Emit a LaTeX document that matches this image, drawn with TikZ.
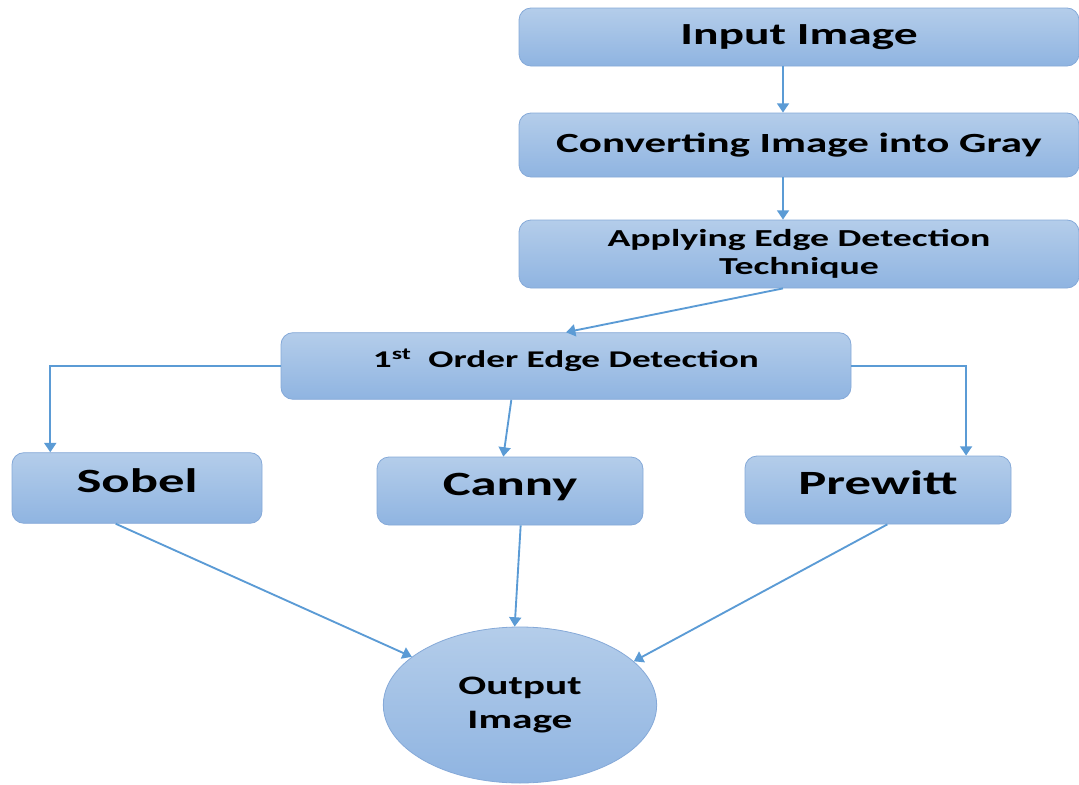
\documentclass[tikz,border=0pt]{standalone}
\usepackage{fontspec}
\setmainfont[FakeStretch=1.55]{Carlito}
\usetikzlibrary{arrows.meta,shapes.geometric}
\definecolor{boxtop}{HTML}{B4CDEA}
\definecolor{boxbot}{HTML}{8FB4E1}
\definecolor{boxline}{HTML}{85A9D8}
\definecolor{arrowblue}{HTML}{5B9BD5}
\tikzset{
    stage/.style={rectangle, rounded corners=9pt, draw=boxline, line width=0.6pt,
        top color=boxtop, bottom color=boxbot, align=center, inner sep=0pt},
    flow/.style={draw=arrowblue, line width=1.4pt, -{Triangle[width=9pt,length=7pt]}},
}
\begin{document}
\begin{tikzpicture}[x=0.75pt,y=-0.75pt]
    \useasboundingbox (0,0) rectangle (1079,785);
    %% pipeline
    \node[stage, minimum width=420pt, minimum height=43.5pt,
        font=\bfseries\fontsize{23}{26}\selectfont] (input) at (799,37) {Input Image};
    \node[stage, minimum width=420pt, minimum height=48pt,
        font=\bfseries\fontsize{20.8}{24}\selectfont] (gray) at (799,145) {Converting Image into Gray};
    \node[stage, minimum width=420pt, minimum height=51pt,
        font=\bfseries\fontsize{18.3}{20.5}\selectfont] (apply) at (799,254) {Applying Edge Detection\\[1pt]Technique};
    \node[stage, minimum width=427.5pt, minimum height=50pt, text height=12pt, text depth=9.4pt,
        font=\bfseries\fontsize{18}{21}\selectfont] (first) at (566,366) {1\textsuperscript{st}\ \ Order Edge Detection};
    %% operators
    \node[stage, minimum width=187.5pt, minimum height=53pt, text height=16pt, text depth=10pt,
        font=\bfseries\fontsize{25.5}{28}\selectfont] (sobel) at (137,488) {Sobel};
    \node[stage, minimum width=199.5pt, minimum height=51pt, text height=16pt, text depth=10pt,
        font=\bfseries\fontsize{25.5}{28}\selectfont] (canny) at (510,491) {Canny};
    \node[stage, minimum width=199.5pt, minimum height=51pt, text height=16pt, text depth=10pt,
        font=\bfseries\fontsize{25.5}{28}\selectfont] (prewitt) at (878,490) {Prewitt};
    %% result
    \node[ellipse, draw=boxline, line width=0.6pt, top color=boxtop, bottom color=boxbot,
        minimum width=205pt, minimum height=117pt, inner sep=0pt, align=center,
        font=\bfseries\fontsize{20}{25}\selectfont] (output) at (520,705) {Output\\Image};
    %% connectors
    \draw[flow] ([xshift=-12pt]input.south) -- ([xshift=-12pt]gray.north);
    \draw[flow] ([xshift=-12pt]gray.south) -- ([xshift=-12pt]apply.north);
    \draw[flow] ([xshift=-12pt]apply.south) -- (first.north);
    \draw[flow] (first.west) -| ([xshift=29pt]sobel.north west);
    \draw[flow] ([xshift=-41pt]first.south) -- ([xshift=-5pt]canny.north);
    \draw[flow] (first.east) -| ([xshift=-34pt]prewitt.north east);
    \draw[flow] ([xshift=-16pt]sobel.south) -- (output.156);
    \draw[flow] ([xshift=8pt]canny.south) -- ([xshift=-4pt]output.north);
    \draw[flow] ([xshift=7pt]prewitt.south) -- (output.21);
\end{tikzpicture}
\end{document}
